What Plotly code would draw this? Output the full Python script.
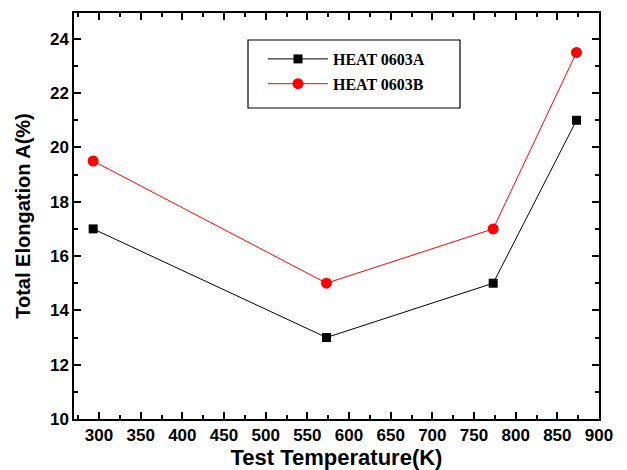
import plotly.graph_objects as go

temps = [293, 573, 773, 873]
heat_a = [17, 13, 15, 21]
heat_b = [19.5, 15, 17, 23.5]
names = ["HEAT 0603A", "HEAT 0603B"]

fig = go.Figure()
fig.add_trace(go.Scatter(x=temps, y=heat_a, name=names[0], mode="lines+markers", legendgroup="a",
                         line=dict(color="black", width=1),
                         marker=dict(symbol="square", size=9, color="black")))
fig.add_trace(go.Scatter(x=temps, y=heat_b, name=names[1], mode="lines+markers", legendgroup="b",
                         line=dict(color="red", width=1),
                         marker=dict(symbol="circle", size=11, color="red")))

axis_common = dict(showline=True, linecolor="black", linewidth=1.5, mirror="ticks",
                   ticks="inside", ticklen=7, tickwidth=1.5, tickcolor="black",
                   showgrid=False, zeroline=False, automargin=False,
                   tickfont=dict(family="Arial, Liberation Sans", size=17, color="black", weight="bold"))

fig.update_xaxes(range=[270, 900], tick0=300, dtick=50,
                 minor=dict(ticks="inside", ticklen=4, tickwidth=1.5, tickcolor="black", dtick=25, tick0=275),
                 title=dict(text="Test Temperature(K)", standoff=12,
                            font=dict(family="Arial, Liberation Sans", size=22, color="black", weight="bold")),
                 **axis_common)
fig.update_yaxes(range=[10, 24.95], tick0=10, dtick=2,
                 minor=dict(ticks="inside", ticklen=4, tickwidth=1.5, tickcolor="black", dtick=1),
                 title=dict(text="Total Elongation A(%)", standoff=14,
                            font=dict(family="Arial, Liberation Sans", size=20, color="black", weight="bold")),
                 **axis_common)

L, R, T, B = 74, 28, 13, 51
W, H = 627, 470
pw, ph = W - L - R, H - T - B

def px_x(x):
    return (x - L) / pw

def px_y(y):
    return (H - B - y) / ph

fig.add_shape(type="rect", xref="paper", yref="paper",
              x0=px_x(248), x1=px_x(460), y0=px_y(108), y1=px_y(40),
              line=dict(color="black", width=1.2), fillcolor="rgba(0,0,0,0)")

fig.update_layout(
    width=W, height=H,
    margin=dict(l=L, r=R, t=T, b=B),
    plot_bgcolor="white", paper_bgcolor="white",
    legend=dict(x=px_x(263), y=px_y(42), xanchor="left", yanchor="top",
                borderwidth=0, bgcolor="rgba(0,0,0,0)",
                font=dict(family="Times New Roman, Liberation Serif", size=16, color="black", weight="bold"),
                itemwidth=60, tracegroupgap=1),
)

fig.write_html("out.html")
